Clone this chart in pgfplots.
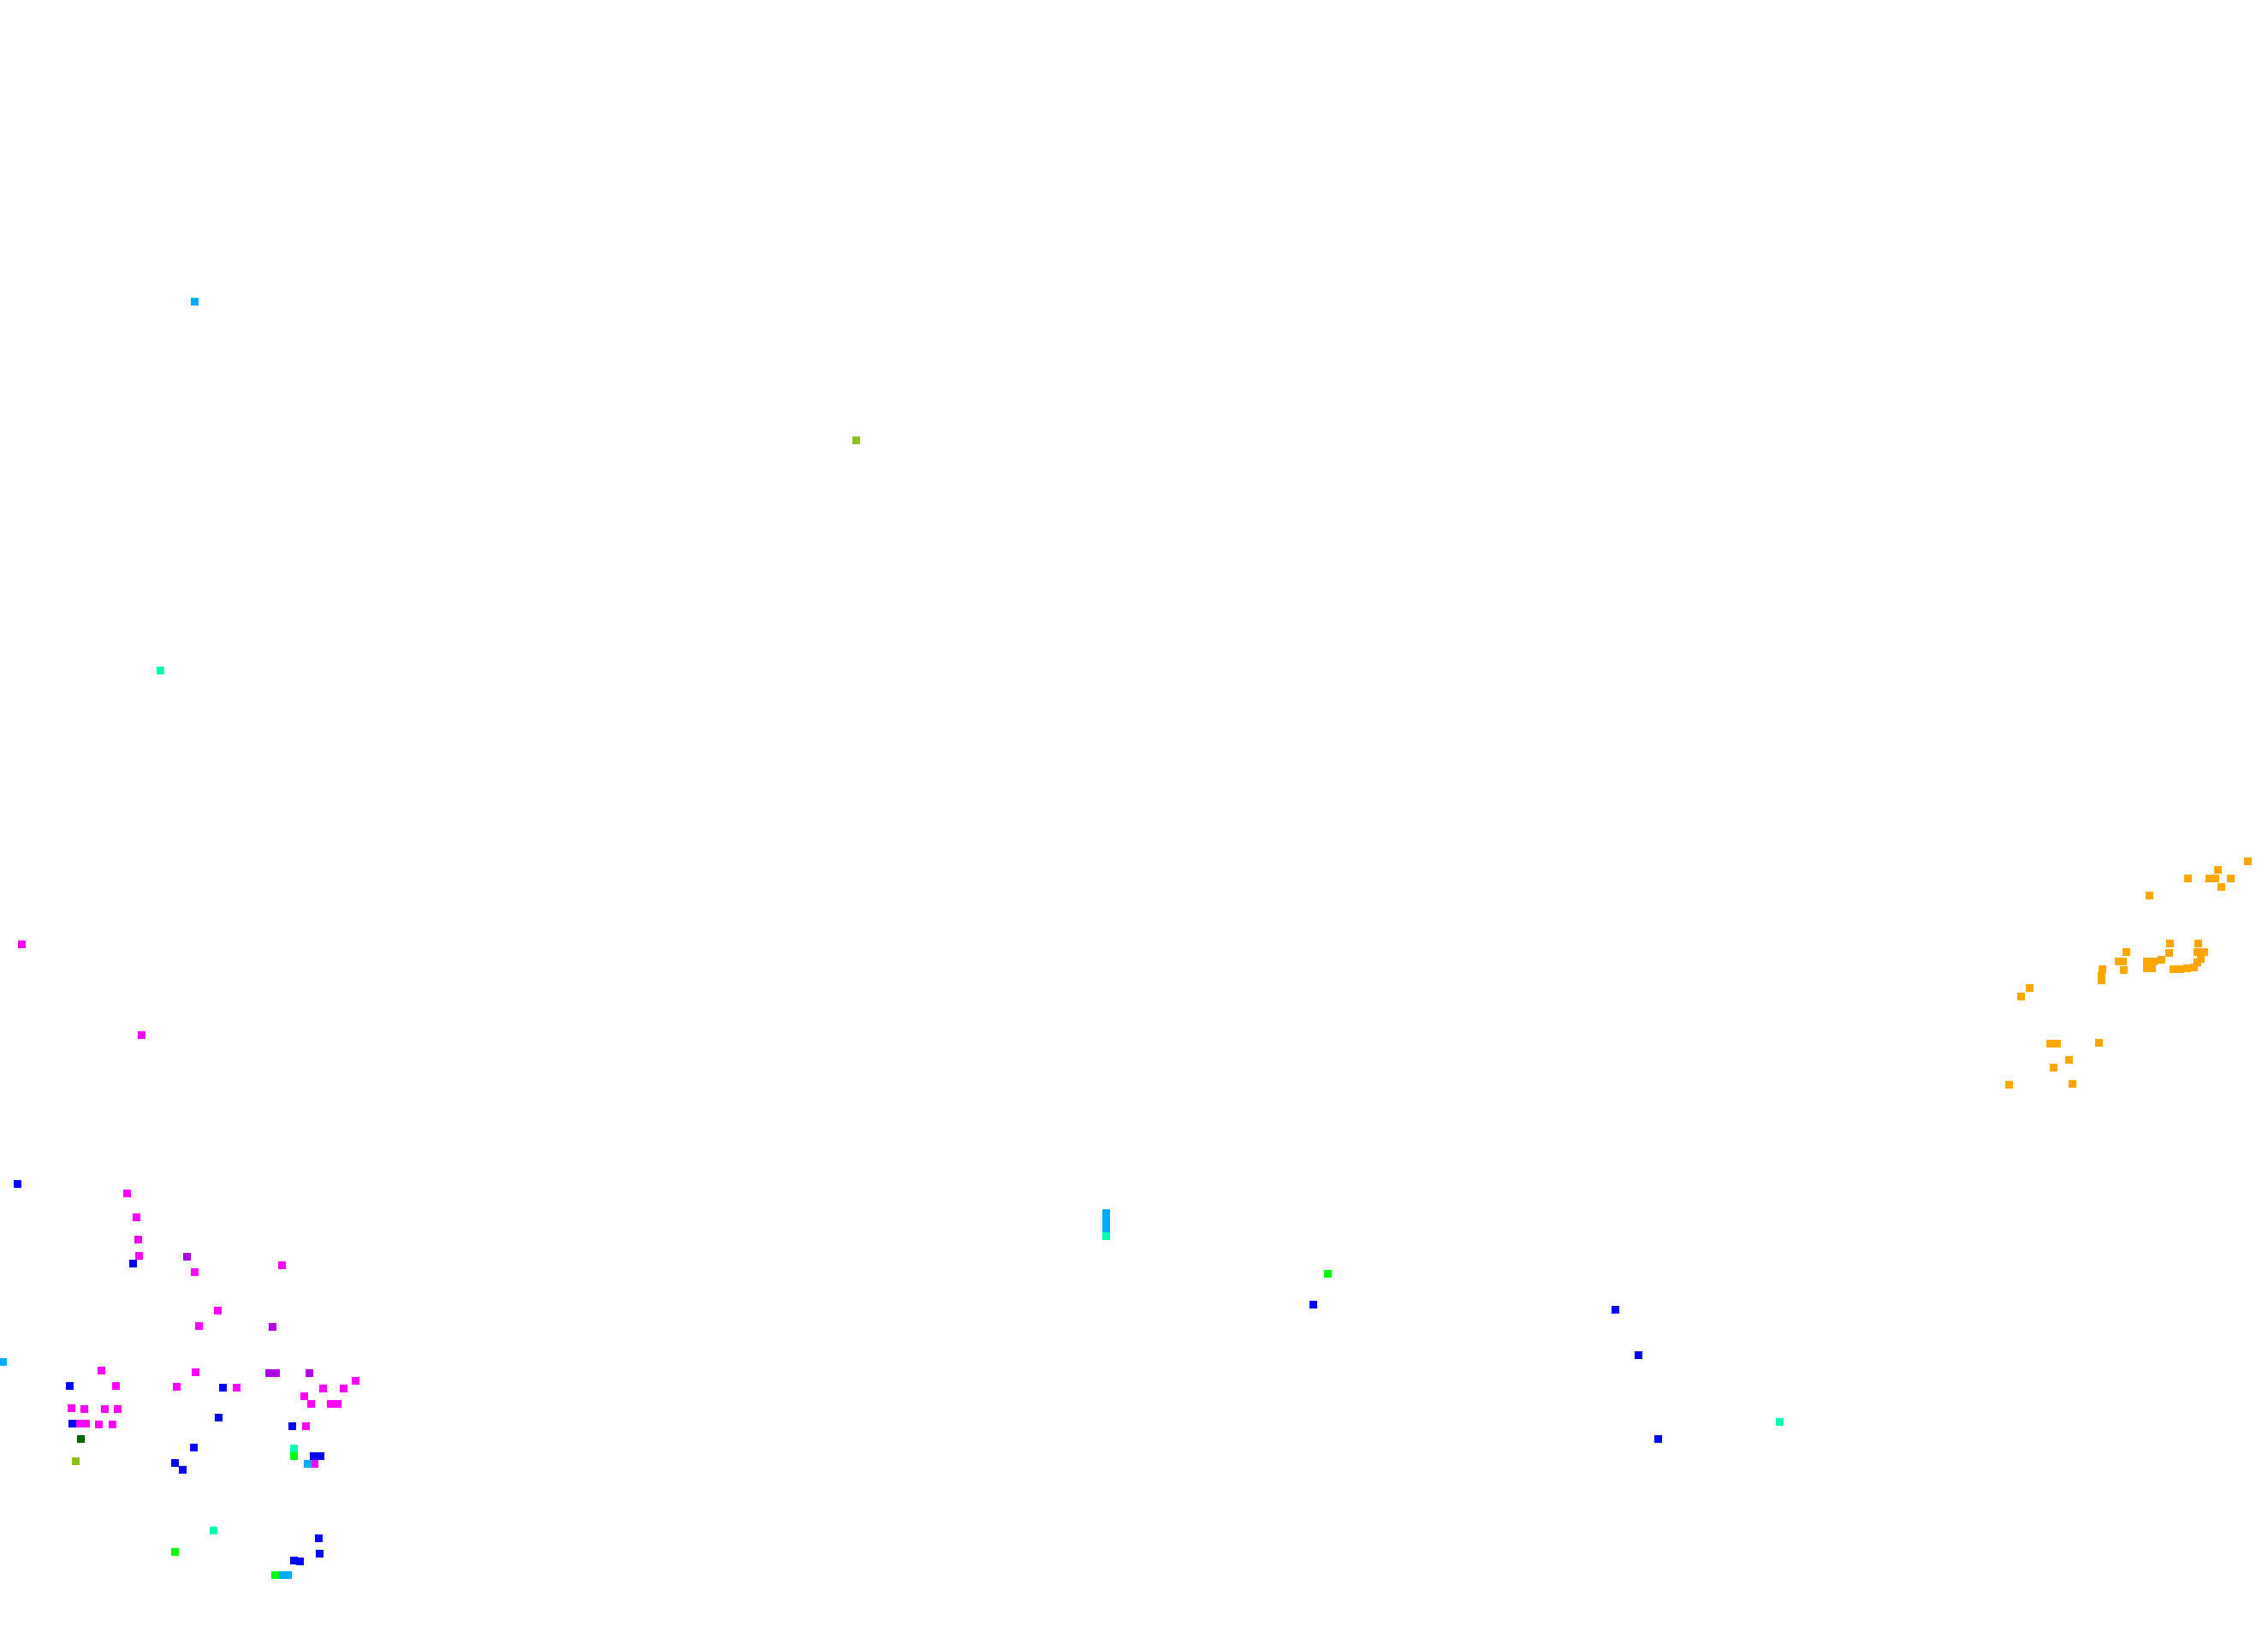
\documentclass[border=0pt]{standalone}
\usepackage{pgfplots}
\pgfplotsset{compat=1.18}

\definecolor{cMag}{HTML}{FF00FF}
\definecolor{cBlue}{HTML}{0000FF}
\definecolor{cPurple}{HTML}{B000E6}
\definecolor{cSky}{HTML}{00AAFF}
\definecolor{cAqua}{HTML}{00FFB0}
\definecolor{cGreen}{HTML}{00FF00}
\definecolor{cOlive}{HTML}{8CBF1F}
\definecolor{cDark}{HTML}{006400}
\definecolor{cOrange}{HTML}{FFA500}

\pgfplotsset{dot/.style={only marks, mark=square*, mark size=0.4mm, color=#1, mark options={fill=#1, draw=#1, line width=0pt}}}

\begin{document}
\begin{tikzpicture}
\begin{axis}[
    scale only axis,
    width=26.5cm, height=18.99cm,
    xmin=0, xmax=2650,
    ymin=0, ymax=1899,
    y dir=reverse,
    axis lines=none,
    ticks=none,
]
% keep the full canvas as the picture's size
\path (rel axis cs:0,0) rectangle (rel axis cs:1,1);
% magenta
\addplot[dot=cMag] coordinates {
    (25.3,1103.7)(165.7,1209)(148.7,1394.3)(159,1422)(161,1448)(162.7,1467.7)
    (329.3,1478.7)(227.3,1486.3)(254,1531.3)(232,1549.3)(118,1601.3)(228,1603.3)
    (415.7,1613.3)(135.3,1619.3)(206,1620.7)(276,1621.3)(377.7,1622.3)(401,1622.3)
    (355,1631)(363,1640)(386.3,1640.3)(394,1640.3)(83,1645.7)(98.7,1646.3)
    (122,1646.3)(137.3,1646.3)(92.3,1663.3)(100,1663.3)(115.7,1664)(131.3,1664.3)
    (357,1666.3)(367,1710.3)
};
% blue
\addplot[dot=cBlue] coordinates {
    (20,1383.7)(155.3,1476.3)(81,1619.3)(260.3,1621.3)(84.7,1663.3)(255,1656.3)
    (341,1666.3)(226.7,1691.3)(366.7,1701.3)(374,1701.3)(204.3,1709)(213,1717.7)
    (372,1797.7)(373,1815.3)(343,1823.7)(350.7,1824)
    (1534,1524.3)(1887.7,1530)(1914.7,1583.3)(1937.3,1681)
};
% purple
\addplot[dot=cPurple] coordinates {
    (218,1468.3)(318.3,1550.3)(314.3,1604)(322,1604.3)(361,1604.3)
};
% light blue
\addplot[dot=cSky] coordinates {
    (227.3,352.3)(4,1591.3)(359.3,1710.3)(328.7,1840.7)(336.3,1840.7)
    (1292.7,1417)(1292.7,1424)(1292.7,1431)(1292.7,1436)
};
% aquamarine
\addplot[dot=cAqua] coordinates {
    (187.3,783.7)(343,1692.3)(249,1788.3)(1292.7,1444.3)(2079.3,1661.3)
};
% green
\addplot[dot=cGreen] coordinates {
    (343.3,1701.3)(204.3,1813.3)(321,1840.7)(1551.3,1488)
};
% olive
\addplot[dot=cOlive] coordinates {
    (1000,514)(88,1707.3)
};
% dark green
\addplot[dot=cDark] coordinates {
    (94,1681.7)
};
% orange
\addplot[dot=cOrange] coordinates {
    (2626,1006.3)(2591,1016.7)(2556,1026.7)(2581,1026.3)(2588.7,1026.3)(2606.3,1026)
    (2595.7,1036)(2511.3,1046.7)(2535.7,1102.7)(2534.3,1113.3)(2568.7,1102.7)
    (2567,1112)(2575,1112)(2571,1120)(2567,1124)(2484.3,1112.7)(2480,1123.3)
    (2475,1123.3)(2481.7,1133.3)(2456.7,1132.7)(2455.7,1139.3)(2455,1145)
    (2508,1123.3)(2516,1123.3)(2508,1131.7)(2514,1131.7)(2525,1121.7)
    (2539,1132.7)(2547,1132.7)(2555,1131.7)(2563,1130)
    (2371.7,1154)(2361.7,1164)(2395.7,1219.3)(2403.3,1219.3)(2452.7,1218.3)
    (2417,1238.3)(2399.3,1247.7)(2347.7,1267.3)(2421,1266)
};
\end{axis}
\end{tikzpicture}
\end{document}
